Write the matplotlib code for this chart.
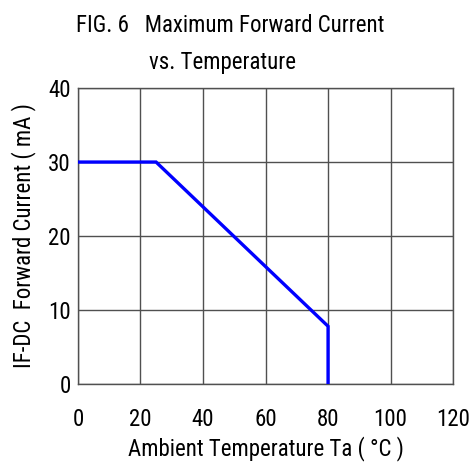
import matplotlib
matplotlib.use("Agg")
import matplotlib.pyplot as plt

# derating curve
temp_c = [0, 25, 80, 80]
current_ma = [30, 30, 7.8, 0]

x_ticks = [0, 20, 40, 60, 80, 100, 120]
y_ticks = [0, 10, 20, 30, 40]

plt.rcParams["font.family"] = ["Roboto Condensed", "Archivo Narrow", "DejaVu Sans"]
FS = 16.5

fig = plt.figure(figsize=(4.75, 4.66), dpi=100)
ax = fig.add_axes([0.164, 0.176, 0.79, 0.635])

ax.plot(temp_c, current_ma, color="#0000ff", lw=2.4, solid_joinstyle="miter", zorder=3)

ax.set_xlim(0, 120)
ax.set_ylim(0, 40)
ax.set_xticks(x_ticks)
ax.set_yticks(y_ticks)
ax.grid(True, color="#505050", lw=1.0)
for s in ax.spines.values():
    s.set_color("#505050")
    s.set_linewidth(1.0)
ax.tick_params(length=0, labelsize=FS)
ax.tick_params(axis="x", pad=17)
ax.tick_params(axis="y", pad=5)

ax.set_xlabel("Ambient Temperature Ta ( °C )", fontsize=FS, labelpad=4)
ax.set_ylabel("IF-DC  Forward Current ( mA )", fontsize=FS, labelpad=9)

fig.text(0.485, 0.946, "FIG. 6   Maximum Forward Current", ha="center", va="center", fontsize=FS)
fig.text(0.468, 0.866, "vs. Temperature", ha="center", va="center", fontsize=FS)

fig.savefig("out.png", dpi=100)
